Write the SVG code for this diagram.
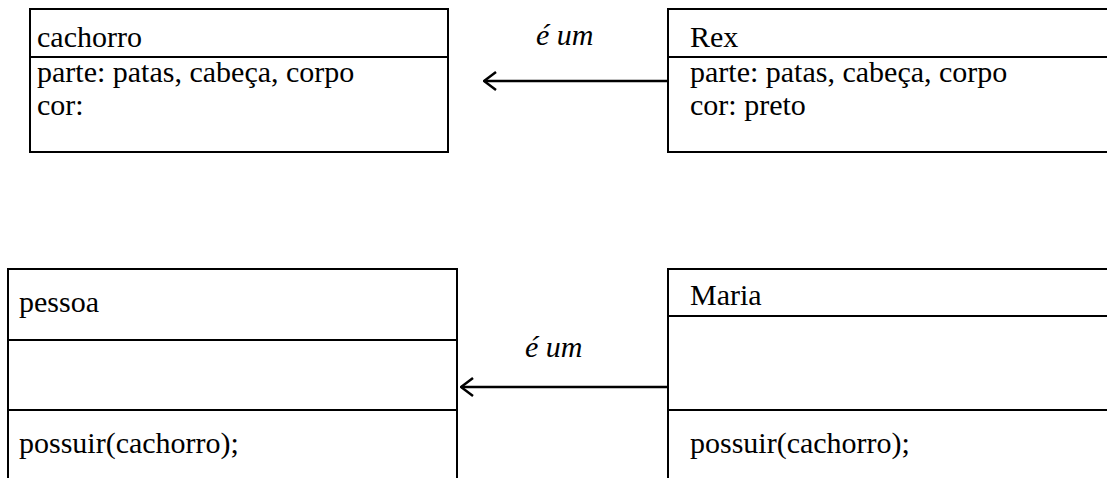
<svg xmlns="http://www.w3.org/2000/svg" width="1107" height="478" viewBox="0 0 1107 478">
<style>
.box{fill:none;stroke:#000;stroke-width:2}
.ln{stroke:#000;stroke-width:2}
.conn{stroke:#000;stroke-width:2.5;fill:none}
</style>
<defs>
<marker id="arr" markerWidth="14" markerHeight="20" refX="13" refY="10" orient="auto" markerUnits="userSpaceOnUse">
<path d="M1,1 L13,10 L1,19" fill="none" stroke="#000" stroke-width="2.5"/>
</marker>
</defs>
<rect width="1107" height="478" fill="#fff"/>
<g font-family="Liberation Serif, Times New Roman, Times, serif" font-size="30" fill="#000">
<g id="cachorro">
<rect class="box" x="30" y="9" width="418" height="143"/>
<line class="ln" x1="30" y1="57" x2="448" y2="57"/>
<text x="37" y="47">cachorro</text>
<text x="37" y="82">parte: patas, cabeça, corpo</text>
<text x="37" y="115">cor:</text>
</g>
<g id="rex">
<path class="box" d="M1110,9 H668 V152 H1110"/>
<line class="ln" x1="668" y1="57" x2="1110" y2="57"/>
<text x="690" y="47">Rex</text>
<text x="690" y="82">parte: patas, cabeça, corpo</text>
<text x="690" y="115">cor: preto</text>
</g>
<g id="pessoa">
<path class="box" d="M8,480 V269 H457 V480"/>
<line class="ln" x1="8" y1="340" x2="457" y2="340"/>
<line class="ln" x1="8" y1="410" x2="457" y2="410"/>
<text x="19" y="312">pessoa</text>
<text x="19" y="453">possuir(cachorro);</text>
</g>
<g id="maria">
<path class="box" d="M1110,269 H668 V480"/>
<line class="ln" x1="668" y1="316" x2="1110" y2="316"/>
<line class="ln" x1="668" y1="410" x2="1110" y2="410"/>
<text x="690" y="305">Maria</text>
<text x="690" y="453">possuir(cachorro);</text>
</g>
<g id="connectors">
<line class="conn" x1="668" y1="81" x2="484" y2="81" marker-end="url(#arr)"/>
<text font-style="italic" x="536" y="45">é um</text>
<line class="conn" x1="668" y1="387" x2="461" y2="387" marker-end="url(#arr)"/>
<text font-style="italic" x="525" y="357">é um</text>
</g>
</g>
</svg>
